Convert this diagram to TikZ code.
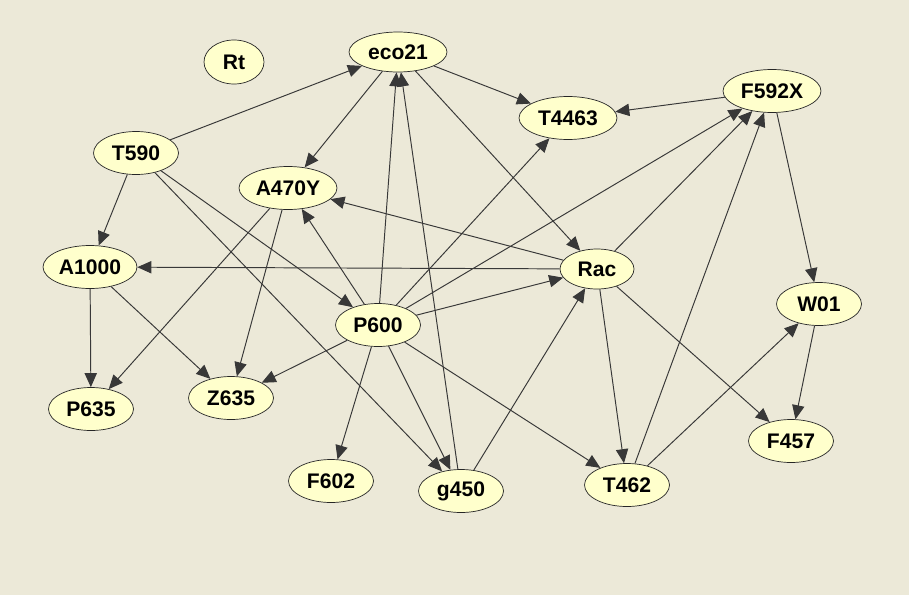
\documentclass[tikz,border=0pt]{standalone}
\usepackage{fontspec}
\setmainfont{Liberation Sans}
\usetikzlibrary{arrows.meta,shapes.geometric}

\definecolor{panelbg}{HTML}{ECE9D8}
\definecolor{genefill}{HTML}{FFFFCC}
\definecolor{edgegray}{HTML}{383838}

\begin{document}
\begin{tikzpicture}[x=0.02cm, y=-0.02cm, >={Triangle[length=8pt,width=7pt]},
  font=\bfseries\fontsize{12}{14}\selectfont,
  gene/.style={ellipse, draw=black!85, fill=genefill, inner sep=0pt,
    minimum width=1.7cm, minimum height=0.86cm},
  wide/.style={minimum width=1.96cm},
  link/.style={->, draw=edgegray, line width=0.55pt}]
  \fill[panelbg] (0,0) rectangle (909,595);

  % --- nodes ---
  \node[gene, minimum width=1.2cm, minimum height=0.88cm] (Rt) at (234,62) {Rt};
  \node[gene, wide, minimum height=0.8cm] (eco21) at (398,52) {eco21};
  \node[gene] (T590) at (136,153) {T590};
  \node[gene, wide] (A470Y) at (288,188) {A470Y};
  \node[gene, minimum width=1.88cm] (A1000) at (90,267) {A1000};
  \node[gene, wide] (T4463) at (568,118) {T4463};
  \node[gene, wide] (F592X) at (772,91) {F592X};
  \node[gene, minimum width=1.48cm, minimum height=0.8cm] (Rac) at (597,269) {Rac};
  \node[gene] (P600) at (378,325) {P600};
  \node[gene] (W01) at (819,304) {W01};
  \node[gene] (P635) at (91,409) {P635};
  \node[gene] (Z635) at (231,398) {Z635};
  \node[gene] (F602) at (331,481) {F602};
  \node[gene] (g450) at (461,491) {g450};
  \node[gene] (T462) at (627,485) {T462};
  \node[gene] (F457) at (791,441) {F457};

  % --- edges ---
  \draw[link] (T590) -- (eco21);
  \draw[link] (T590) -- (A1000);
  \draw[link] (T590) -- (P600);
  \draw[link] (T590) -- (g450);
  \draw[link] (eco21) -- (A470Y);
  \draw[link] (eco21) -- (T4463);
  \draw[link] (eco21) -- (Rac);
  \draw[link] (A470Y) -- (P635);
  \draw[link] (A470Y) -- (Z635);
  \draw[link] (A1000) -- (P635);
  \draw[link] (A1000) -- (Z635);
  \draw[link] (P600) -- (A470Y);
  \draw[link] (P600) -- (eco21);
  \draw[link] (P600) -- (T4463);
  \draw[link] (P600) -- (F592X);
  \draw[link] (P600) -- (Rac);
  \draw[link] (P600) -- (Z635);
  \draw[link] (P600) -- (F602);
  \draw[link] (P600) -- (g450);
  \draw[link] (P600) -- (T462);
  \draw[link] (g450) -- (eco21);
  \draw[link] (g450) -- (Rac);
  \draw[link] (Rac) -- (A470Y);
  \draw[link] (Rac) -- (A1000);
  \draw[link] (Rac) -- (F592X);
  \draw[link] (Rac) -- (T462);
  \draw[link] (Rac) -- (F457);
  \draw[link] (F592X) -- (T4463);
  \draw[link] (F592X) -- (W01);
  \draw[link] (T462) -- (F592X);
  \draw[link] (T462) -- (W01);
  \draw[link] (W01) -- (F457);
\end{tikzpicture}
\end{document}
